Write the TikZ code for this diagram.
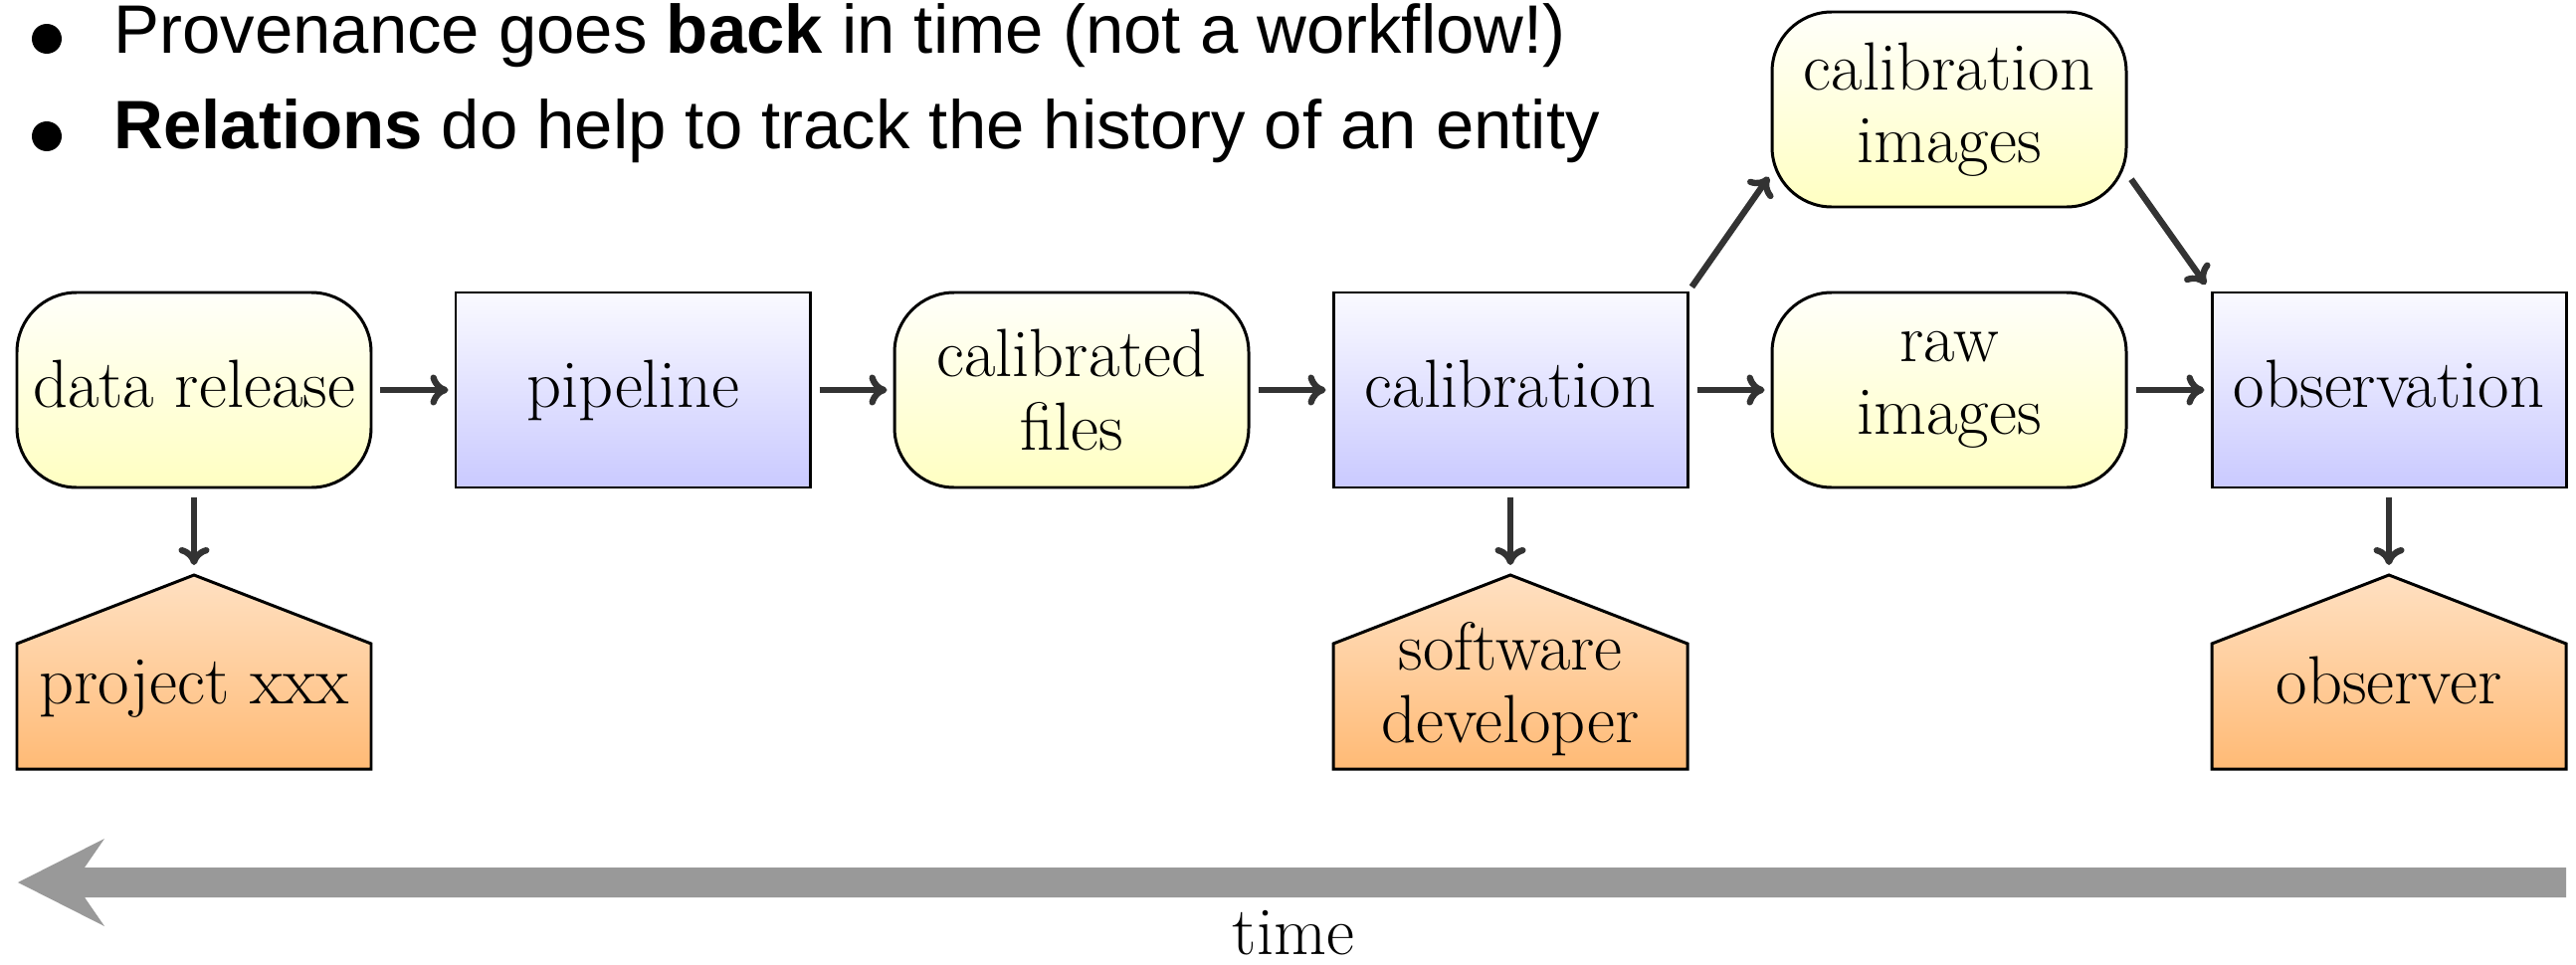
\documentclass[tikz,border=0pt]{standalone}
\usepackage{fontspec}
\newfontfamily\bulletfont{Liberation Sans}
\usetikzlibrary{arrows.meta,calc}
\newcommand\nodefont{\fontsize{19.5}{20.8}\selectfont}
\newcommand\headfont{\bulletfont\fontsize{19.6}{23}\selectfont}
\begin{document}
\begin{tikzpicture}[
  boxbase/.style={line width=0.85pt, minimum width=3.56cm, minimum height=1.96cm, inner sep=0pt, align=center, font=\nodefont},
  entity/.style={boxbase, draw=black, rounded corners=0.6cm, top color=yellow!2, bottom color=yellow!24},
  activity/.style={boxbase, draw=black, top color=blue!2, bottom color=blue!21},
  oneline/.style={text height=0.46cm, text depth=0.12cm},
  agent/.style={minimum width=3.56cm, minimum height=1.95cm, inner sep=0pt, outer sep=0pt},
  agentfill/.style={draw=black, line width=0.85pt, line join=miter, top color=orange!24, bottom color=orange!54},
  agenttext/.style={font=\nodefont, align=center, inner sep=0pt},
  arr/.style={draw=black!80, line width=1.8pt, -{Computer Modern Rightarrow[length=0.18cm, width=0.31cm]}},
  bulletdot/.style={circle, fill=black, inner sep=0pt, minimum size=0.30cm},
  headline/.style={anchor=base west, inner sep=0pt, font=\headfont},
]
\useasboundingbox (0,0) rectangle (25.89,-9.70);

% bullet lines
\node[bulletdot] (b1) at (0.47,-0.39) {};
\node[bulletdot] (b2) at (0.47,-1.37) {};
\node[headline] (t1) at (1.14,-0.53) {Provenance goes \textbf{back} in time (not a workflow!)};
\node[headline] (t2) at (1.14,-1.49) {\textbf{Relations} do help to track the history of an entity};

% main row
\node[entity, oneline]   (dr)  at (1.95,-3.92)  {data release};
\node[activity, oneline] (pl)  at (6.36,-3.92)  {pipeline};
\node[entity]            (cf)  at (10.77,-3.92) {calibrated\\files};
\node[activity, oneline] (cal) at (15.18,-3.92) {calibration};
\node[entity]            (raw) at (19.59,-3.92) {raw\\images};
\node[activity, oneline] (obs) at (24.01,-3.92) {observation};
\node[entity]            (ci)  at (19.59,-1.10) {calibration\\images};

% agents (house shapes)
\foreach \n/\x in {pj/1.95, sd/15.18, ob/24.01}{
  \node[agent] (\n) at (\x,-6.755) {};
  \path[agentfill] (\n.south west) -- ($(\n.north west)+(0,-0.69)$) -- (\n.north)
     -- ($(\n.north east)+(0,-0.69)$) -- (\n.south east) -- cycle;
}
\node[agenttext, anchor=base] (pjt) at (1.95,-7.07) {project xxx};
\node[agenttext] (sdt) at (15.18,-6.93) {software\\developer};
\node[agenttext, anchor=base] (obt) at (24.01,-7.07) {observer};

% connectors
\draw[arr, shorten <=0.08cm, shorten >=0.06cm] (dr) -- (pl);
\draw[arr, shorten <=0.08cm, shorten >=0.06cm] (pl) -- (cf);
\draw[arr, shorten <=0.08cm, shorten >=0.06cm] (cf) -- (cal);
\draw[arr, shorten <=0.08cm, shorten >=0.06cm] (cal) -- (raw);
\draw[arr, shorten <=0.08cm, shorten >=0.06cm] (raw) -- (obs);
\draw[arr, shorten <=0.05cm, shorten >=0.03cm] (cal.north east) -- (ci.200);
\draw[arr, shorten <=0.06cm, shorten >=0.08cm] (ci.-20) -- (obs.north west);
\draw[arr, shorten <=0.08cm, shorten >=0.10cm] (dr) -- (pj.north);
\draw[arr, shorten <=0.08cm, shorten >=0.10cm] (cal) -- (sd.north);
\draw[arr, shorten <=0.08cm, shorten >=0.10cm] (obs) -- (ob.north);

% time arrow
\fill[gray!80] (0.18,-8.87) -- (1.05,-8.43) -- (0.85,-8.72) -- (25.79,-8.72)
  -- (25.79,-9.02) -- (0.85,-9.02) -- (1.05,-9.31) -- cycle;
\node[font=\nodefont, anchor=base, inner sep=0pt] (time) at (13.0,-9.59) {time};
\end{tikzpicture}
\end{document}
